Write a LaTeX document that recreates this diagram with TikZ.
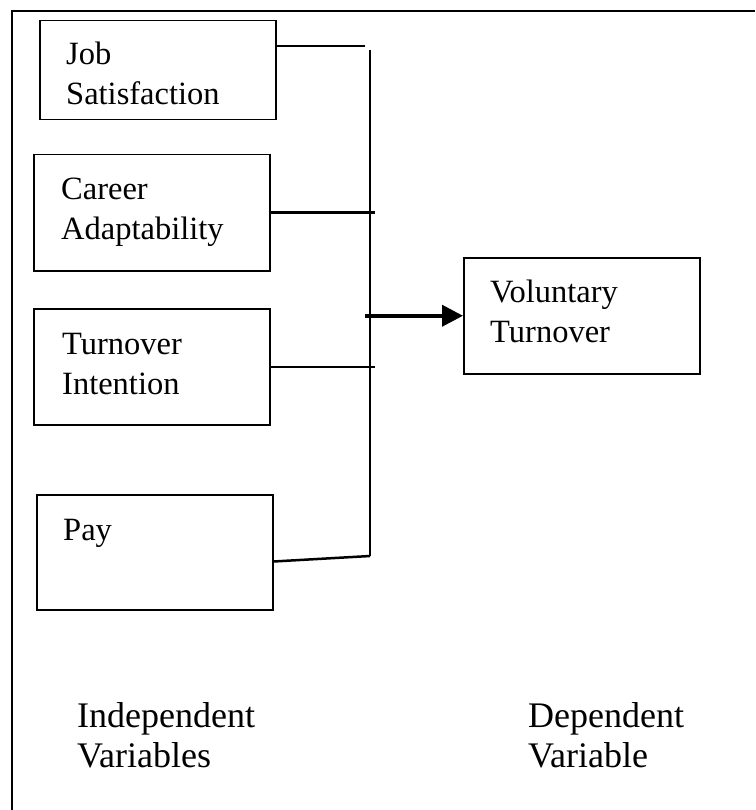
\documentclass[tikz,border=0pt]{standalone}
\usepackage{fontspec}
\setmainfont{Liberation Serif}
\usetikzlibrary{calc,arrows.meta}
\tikzset{
	varbox/.style={draw, line width=1.5pt, minimum width=236pt, inner sep=0pt, anchor=north west},
	boxtext/.style={anchor=base west, inner sep=0pt, text width=210pt, align=left, font=\fontsize{32.5}{40}\selectfont},
	foottext/.style={anchor=base west, inner sep=0pt, text width=220pt, align=left, font=\fontsize{36}{40}\selectfont},
	wire/.style={line width=2.5pt}
}

\begin{document}
\begin{tikzpicture}[x=1pt, y=-1pt]
			%%%%% START %%%%%
			\useasboundingbox (0, 0) rectangle (755, 810);
			
			\draw[line width=2.8pt] (12, 810) -- (12, 11) -- (755, 11);
			
			\node[varbox, minimum height=99pt] (job) at (39, 20) {};
			\node[varbox, minimum height=116pt] (career) at (33, 154) {};
			\node[varbox, minimum height=116pt] (intent) at (33, 308) {};
			\node[varbox, minimum height=115pt] (pay) at (36, 494) {};
			\node[varbox, minimum height=116pt] (vol) at (463, 257) {};
			
			\node[boxtext] (jobtext) at ($(job.north west)+(27, 45)$) {Job\\Satisfaction};
			\node[boxtext] (careertext) at ($(career.north west)+(28, 46)$) {Career\\Adaptability};
			\node[boxtext] (intenttext) at ($(intent.north west)+(29, 46)$) {Turnover\\Intention};
			\node[boxtext] (paytext) at ($(pay.north west)+(27, 46)$) {Pay};
			\node[boxtext] (voltext) at ($(vol.north west)+(27, 45)$) {Voluntary\\Turnover};
			
			\coordinate (bustop) at (370, 50);
			\coordinate (busend) at (370, 556);
			\coordinate (jobend) at (365, 46);
			\coordinate (tap) at (365, 314);
			
			\draw[wire] (bustop) -- (busend);
			\draw[wire] (job.east |- jobend) -- (jobend);
			\draw[wire] (career.east) -- ++(104, 0);
			\draw[wire] (intent.east) -- ++(104, 0);
			\draw[wire] ($(pay.south east)+(0, -49)$) -- (busend);
			\draw[line width=3.8pt, -{Triangle[length=21pt, width=21pt]}] (vol.west -| tap) -- (vol.west);
			
			\node[foottext] (indep) at (77, 727) {Independent\\Variables};
			\node[foottext] (dep) at (528, 727) {Dependent\\Variable};
			%%%%% END %%%%%
\end{tikzpicture}
\end{document}
